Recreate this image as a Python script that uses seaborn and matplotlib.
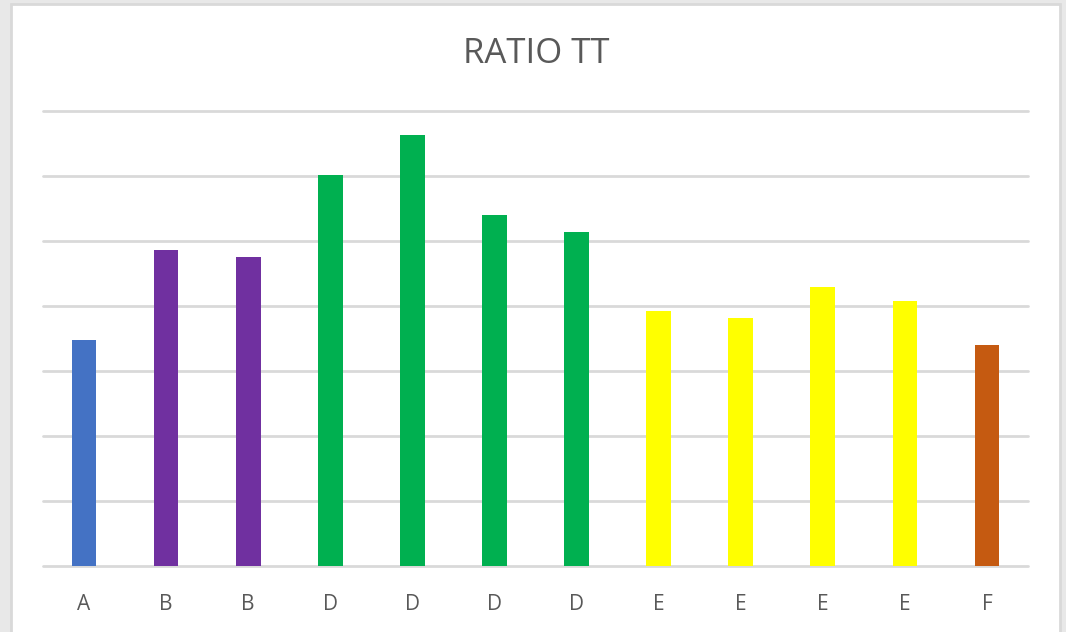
import matplotlib
matplotlib.use('Agg')
import matplotlib.pyplot as plt
import seaborn as sns
from matplotlib.patches import Rectangle

# values (gridline units)
labels = ['A', 'B', 'B', 'D', 'D', 'D', 'D', 'E', 'E', 'E', 'E', 'F']
values = [3.48, 4.86, 4.75, 6.02, 6.63, 5.40, 5.14, 3.92, 3.82, 4.29, 4.08, 3.40]
group_colors = {'A': '#4472C4', 'B': '#7030A0', 'D': '#00B050',
                'E': '#FFFF00', 'F': '#C55A11'}
bar_colors = [group_colors[l] for l in labels]

sns.set_theme(style='white')
plt.rcParams['font.family'] = ['Open Sans', 'DejaVu Sans']

fig = plt.figure(figsize=(10.66, 6.32), dpi=100)
fig.patch.set_facecolor('#e8e8e8')

# white chart area with light border (runs off the bottom edge)
fig.patches.append(Rectangle((11 / 1066, -0.02), 1049 / 1066, 1.02 - 4 / 632,
                             transform=fig.transFigure, facecolor='white',
                             edgecolor='#d9d9d9', linewidth=2, zorder=-1))

ax = fig.add_axes([43 / 1066, 1 - 566 / 632, 985 / 1066, 455 / 632])
ax.set_zorder(2)
ax.set_facecolor('none')

idx = list(range(len(labels)))
sns.barplot(x=idx, y=values, hue=idx, palette=bar_colors, legend=False,
            width=0.3, saturation=1, linewidth=0, ax=ax, zorder=3)

ax.set_xlim(-0.5, len(labels) - 0.5)
ax.set_ylim(0, 7)
ax.set_yticks(range(0, 8))
ax.set_yticklabels([])
ax.tick_params(axis='y', length=0)
ax.yaxis.grid(True, color='#d9d9d9', linewidth=2)
for gl in ax.get_ygridlines():
    gl.set_clip_on(False)
ax.set_axisbelow(True)
for s in ax.spines.values():
    s.set_visible(False)

ax.set_xticks(idx)
ax.set_xticklabels(labels, color='#595959', fontsize=15)
ax.tick_params(axis='x', length=0, pad=20)
ax.set_xlabel('')
ax.set_ylabel('')

fig.text(536 / 1066, 1 - 54 / 632, 'RATIO TT', ha='center', va='center',
         fontsize=25, color='#595959')

plt.savefig('out.png', dpi=100)
plt.close()
